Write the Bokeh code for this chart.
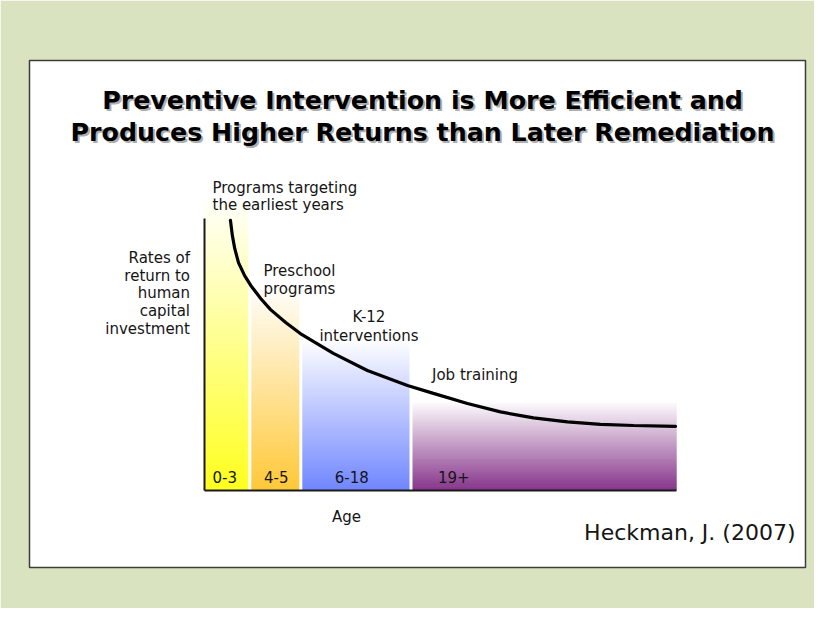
import numpy as np
from bokeh.plotting import figure
from bokeh.models import Range1d, ColumnDataSource
from bokeh.core.properties import value
from bokeh.embed import file_html
from bokeh.resources import INLINE

# ---------------- data ----------------
age_bands = ["0-3", "4-5", "6-18", "19+"]
band_start = [0.0, 9.6, 20.4, 43.75]
band_end = [9.6, 20.4, 43.75, 100.0]
band_top = [105.5, 74.0, 54.0, 32.0]
band_label_x = [4.3, 15.2, 31.2, 52.8]

curve_x = [5.5, 5.9, 6.4, 7.2, 8.5, 9.8, 11.9, 14.0, 17.2, 20.3, 27.3,
           34.5, 43.0, 48.5, 55.7, 62.7, 69.7, 76.9, 83.9, 90.9, 99.8]
curve_y = [99.3, 93.8, 89.0, 83.8, 79.0, 75.4, 70.6, 66.5, 61.8, 57.7, 50.4,
           44.1, 38.6, 35.7, 32.0, 28.9, 26.7, 25.2, 24.3, 23.9, 23.6]

y_axis_top = 100.0

title_lines = ["Preventive Intervention is More Efficient and",
               "Produces Higher Returns than Later Remediation"]
y_label_lines = ["Rates of", "return to", "human", "capital", "investment"]
x_label = "Age"
source_note = "Heckman, J. (2007)"

# ---------------- styles ----------------
band_colors = [(255, 255, 30), (255, 200, 56), (112, 134, 255), (134, 52, 138)]
FONT = value("DejaVu Sans")
INK = "#151515"

# reference-pixel -> data helpers (layout only)
def dx(px):
    return (px - 204.0) / 4.72

def dy(py):
    return (490.0 - py) / 2.72

p = figure(width=814, height=608,
           x_range=Range1d(dx(29), dx(805)), y_range=Range1d(dy(567), dy(60)),
           output_backend="svg", toolbar_location=None,
           x_axis_location=None, y_axis_location=None,
           min_border_left=29, min_border_right=9,
           min_border_top=60, min_border_bottom=41,
           background_fill_color="white", border_fill_color="#d9e3c0",
           outline_line_color="#3c3c3c", outline_line_width=1.5)
p.grid.visible = False

# gradient bands
def mix(c, t):
    r, g, b = (int(round(ci + (255 - ci) * t)) for ci in c)
    return "#%02x%02x%02x" % (r, g, b)

N = 120
L, R, B, T, C = [], [], [], [], []
for i in range(len(age_bands)):
    h = band_top[i]
    for k in range(N):
        L.append(band_start[i])
        R.append(band_end[i])
        B.append(h * k / N)
        T.append(min(h, h * (k + 2.0) / N))
        C.append(mix(band_colors[i], 0.97 * (k + 0.5) / N))
src = ColumnDataSource(dict(left=L, right=R, bottom=B, top=T, color=C))
p.quad(left="left", right="right", bottom="bottom", top="top", source=src,
       fill_color="color", line_color=None)

# white separators between bands
sep_x = band_end[:-1]
sep_top = [max(band_top[i], band_top[i + 1]) + 1 for i in range(len(sep_x))]
p.segment(x0=sep_x, y0=[0] * len(sep_x), x1=sep_x, y1=sep_top,
          line_color="white", line_width=3)

# axes lines
p.segment(x0=[0, 0], y0=[0, 0], x1=[0, band_end[-1]], y1=[y_axis_top, 0],
          line_color="#1a1a1a", line_width=2)

# return curve
p.line(curve_x, curve_y, line_color="black", line_width=3.2, line_cap="round")

# title with shadow
tx = [dx(422)] * 2
ty = [dy(100), dy(132)]
p.text(x=tx, y=ty, text=title_lines, x_offset=2, y_offset=2,
       text_font=FONT, text_font_size="25.3px", text_font_style="bold",
       text_align="center", text_baseline="alphabetic",
       text_color="#8a8a8a", text_alpha=0.7)
p.text(x=tx, y=ty, text=title_lines,
       text_font=FONT, text_font_size="25.3px", text_font_style="bold",
       text_align="center", text_baseline="alphabetic", text_color="black")

def txt(xs, ys, texts, align, size="15px"):
    p.text(x=xs, y=ys, text=texts, text_font=FONT, text_font_size=size,
           text_align=align, text_baseline="alphabetic", text_color=INK)

# y label
txt([dx(189.5)] * 5, [dy(v) for v in (257, 275, 292.5, 310.5, 328)],
    y_label_lines, "right")

# segment annotations
txt([dx(212)] * 2, [dy(187), dy(204.5)],
    ["Programs targeting", "the earliest years"], "left")
txt([dx(263)] * 2, [dy(270), dy(288.3)], ["Preschool", "programs"], "left")
txt([dx(368.5)] * 2, [dy(316.7), dy(335)], ["K-12", "interventions"], "center")
txt([dx(431.5)], [dy(374)], ["Job training"], "left")

# band labels
txt(band_label_x, [dy(476.5)] * 4, age_bands, "center")

# x label
txt([dx(346)], [dy(516)], [x_label], "center")

# source
txt([dx(795)], [dy(531.5)], [source_note], "right", size="22px")

open("out.html", "w").write(file_html(p, INLINE))
